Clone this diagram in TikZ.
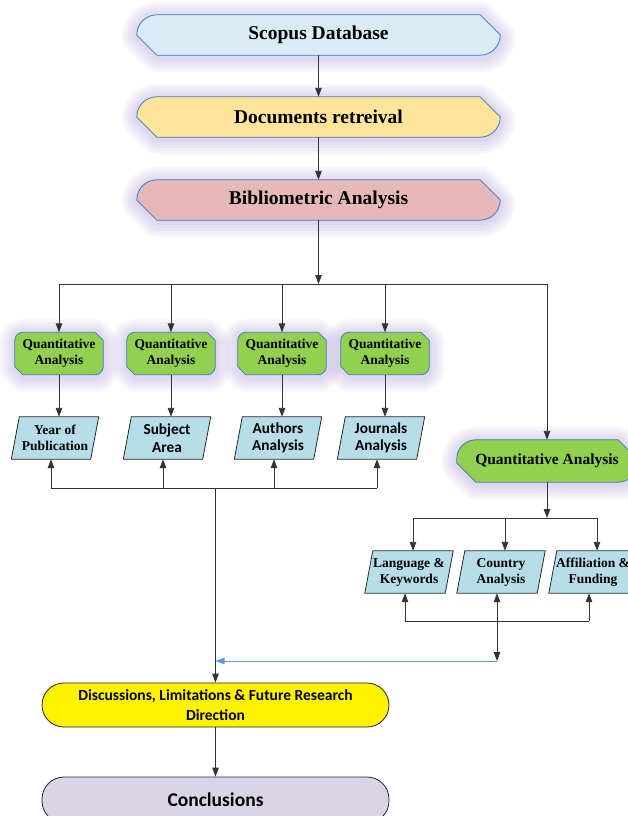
\documentclass[tikz,border=0pt]{standalone}
\usepackage{fontspec}
\setmainfont{Liberation Serif}
\newfontfamily\calibri{Carlito}
\usetikzlibrary{calc,arrows.meta,backgrounds}

\definecolor{scopusblue}{RGB}{218,236,243}
\definecolor{docyellow}{RGB}{255,229,153}
\definecolor{biblored}{RGB}{230,184,183}
\definecolor{quantgreen}{RGB}{146,208,80}
\definecolor{edgeblue}{RGB}{52,125,200}
\definecolor{parablue}{RGB}{183,222,232}
\definecolor{conclgray}{RGB}{217,212,230}
\definecolor{glowlav}{RGB}{170,150,210}
\definecolor{feedblue}{RGB}{91,155,213}

\newcommand{\tagpath}[2]{($(#1.north west)+(#2,0)$) -- ($(#1.north east)+(-#2,0)$) -- ($(#1.north east)+(0,#2)$) -- ($(#1.south east)+(0,-#2)$) .. controls ($(#1.south east)+(0,{-0.45*#2})$) and ($(#1.south east)+({-0.45*#2},0)$) .. ($(#1.south east)+(-#2,0)$) -- ($(#1.south west)+(#2,0)$) -- ($(#1.south west)+(0,-#2)$) -- ($(#1.north west)+(0,#2)$) .. controls ($(#1.north west)+(0,{0.45*#2})$) and ($(#1.north west)+({0.45*#2},0)$) .. ($(#1.north west)+(#2,0)$) -- cycle}
\newcommand{\parapath}[2]{($(#1.north west)+(#2,0)$) -- (#1.north east) -- ($(#1.south east)+(-#2,0)$) -- (#1.south west) -- cycle}
\newcommand{\glowtag}[3]{%
  \foreach \w in {30,24,18,12,6}
    \draw[glowlav,line width=\w pt,opacity=0.09,line join=round,transform canvas={yshift=-2pt}] \tagpath{#1}{#2};
  \draw[edgeblue,line width=0.8pt,fill=#3] \tagpath{#1}{#2};}

\begin{document}
\begin{tikzpicture}[x=1pt,y=-1pt,
  box/.style={minimum width=363pt,minimum height=40pt,inner sep=0pt,font=\fontsize{19.5}{23}\selectfont\bfseries},
  qsmall/.style={minimum width=88pt,minimum height=42pt,inner sep=0pt,align=center,font=\fontsize{13.5}{16}\selectfont\bfseries},
  para/.style={minimum width=87pt,minimum height=42pt,inner sep=0pt,align=center,font=\fontsize{13.5}{16}\selectfont\bfseries},
  parasans/.style={para,font=\calibri\fontsize{15.3}{17.5}\selectfont\bfseries},
  stadium/.style={draw=black!85,line width=0.8pt,rounded corners=22pt,minimum width=347pt,inner sep=0pt,align=center},
  line/.style={line width=0.9pt,black!80},
  conn/.style={line,-{Triangle[length=9pt,width=6.5pt]}},
  feed/.style={feedblue,line width=0.9pt,-{Triangle[length=9pt,width=6.5pt]}}]
  \useasboundingbox (0,0) rectangle (628,816);

  \node[box] (scopus) at (318.5,35) {Scopus Database};
  \node[box] (docs) at (318.5,117) {Documents retreival};
  \node[box] (biblio) at (318.5,200) {Bibliometric Analysis};

  \node[qsmall] (q1) at (59,353.5) {Quantitative\\Analysis};
  \node[qsmall] (q2) at (171,353.5) {Quantitative\\Analysis};
  \node[qsmall] (q3) at (282,353.5) {Quantitative\\Analysis};
  \node[qsmall] (q4) at (385,353.5) {Quantitative\\Analysis};

  \node[para] (p1) at (55,438) {Year of\\Publication};
  \node[parasans] (p2) at (167,438) {Subject\\Area};
  \node[parasans] (p3) at (278,438) {Authors\\Analysis};
  \node[parasans] (p4) at (381,438) {Journals\\Analysis};

  \node[box,minimum width=180pt,minimum height=42pt,font=\fontsize{15.5}{18}\selectfont\bfseries] (qbig) at (547,461) {Quantitative Analysis};

  \node[para,minimum width=88pt] (r1) at (409,572) {Language \&\\Keywords};
  \node[para,minimum width=88pt] (r2) at (501,572) {Country\\Analysis};
  \node[para,minimum width=88pt] (r3) at (593,572) {Affiliation \&\\Funding};

  \node[stadium,fill=yellow,minimum height=44pt,font=\calibri\fontsize{15.5}{19.5}\selectfont\bfseries] (disc) at (215.5,705) {Discussions, Limitations \& Future Research\\Direction};
  \node[stadium,fill=conclgray,minimum height=46pt,font=\calibri\fontsize{19.5}{23}\selectfont\bfseries] (concl) at (215.5,800) {Conclusions};

  \begin{scope}[on background layer]
    \glowtag{scopus}{20}{scopusblue}
    \glowtag{docs}{20}{docyellow}
    \glowtag{biblio}{20}{biblored}
    \foreach \n in {q1,q2,q3,q4} {\glowtag{\n}{8}{quantgreen}}
    \glowtag{qbig}{19}{quantgreen}
    \foreach \n in {p1,p2,p3,p4,r1,r2,r3}
      \draw[black!85,line width=0.8pt,fill=parablue] \parapath{\n}{8};
  \end{scope}

  \foreach \n in {p1,p2,p3,p4,r1,r2,r3} {
    \coordinate (\n-t) at ($(\n.north)+(4,0)$);
    \coordinate (\n-b) at ($(\n.south)+(-4,0)$);
  }
  \coordinate (bus1) at (0,284);
  \coordinate (bus2) at (0,488);
  \coordinate (bus3) at (0,518);
  \coordinate (bus4) at (0,621);
  \coordinate (fb) at (0,661);

  \draw[conn] (scopus) -- (docs);
  \draw[conn] (docs) -- (biblio);
  \draw[conn] (biblio.south) -- (biblio.south |- bus1);
  \draw[line] (q1 |- bus1) -- (qbig |- bus1);
  \foreach \n in {q1,q2,q3,q4,qbig} \draw[conn] (\n |- bus1) -- (\n.north);
  \foreach \q/\p in {q1/p1,q2/p2,q3/p3,q4/p4} \draw[conn] (\q.south) -- (\p-t);

  \draw[line] (p1-b |- bus2) -- (p4-b |- bus2);
  \foreach \p in {p1,p2,p3,p4} \draw[conn] (\p-b |- bus2) -- (\p-b);
  \draw[conn] (disc.north |- bus2) -- (disc.north);

  \draw[conn] (qbig.south) -- (qbig.south |- bus3);
  \draw[line] (r1-t |- bus3) -- (r3-t |- bus3);
  \foreach \r in {r1,r2,r3} \draw[conn] (\r-t |- bus3) -- (\r-t);
  \draw[line] (r1-b |- bus4) -- (r3-b |- bus4);
  \draw[conn] (r1-b |- bus4) -- (r1-b);
  \draw[conn] (r3-b |- bus4) -- (r3-b);
  \draw[line,{Triangle[length=9pt,width=6.5pt]}-{Triangle[length=9pt,width=6.5pt]}] (r2-b) -- (r2-b |- fb);
  \draw[feed] (r2-b |- fb) -- (disc.north |- fb);

  \draw[conn] (disc) -- (concl);
\end{tikzpicture}
\end{document}
